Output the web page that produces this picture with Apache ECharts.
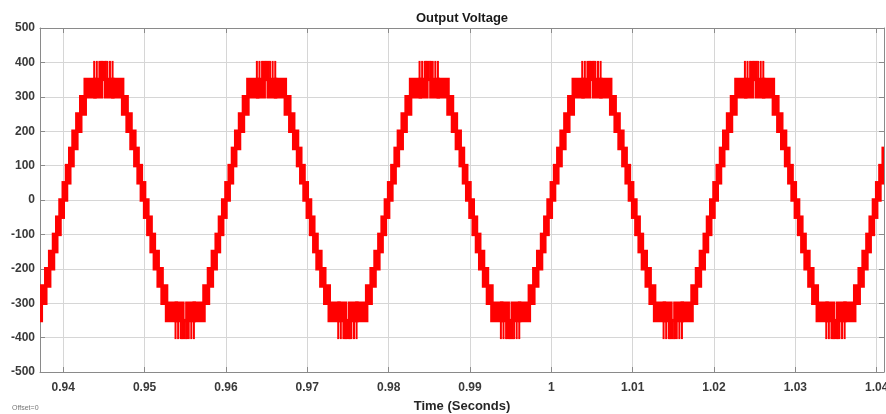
<!DOCTYPE html>
<html>
<head>
<meta charset="utf-8">
<title>Output Voltage</title>
<script src="https://cdn.jsdelivr.net/npm/echarts@6/dist/echarts.min.js"></script>
<style>
  html, body { margin: 0; padding: 0; background: #fff; }
  #chart { width: 886px; height: 414px; }
</style>
</head>
<body>
<div id="chart"></div>
<script>
// x axis tick positions (seconds)
const xTicks = [0.94, 0.95, 0.96, 0.97, 0.98, 0.99, 1, 1.01, 1.02, 1.03, 1.04]

// step boundaries of the inverter output (seconds); block i runs from stepTime[i] to stepTime[i+1]
const stepTime = [
  0.9361, 0.9373, 0.93785, 0.93833, 0.9388, 0.9392, 0.9396,
  0.9400, 0.9404, 0.9408, 0.9412, 0.94167, 0.94215, 0.9427, 0.9439, 0.9447, 0.9452, 0.9461, 0.9473, 0.94785, 0.94833, 0.9488, 0.9492, 0.9496,
  0.9500, 0.9504, 0.9508, 0.9512, 0.95167, 0.95215, 0.9527, 0.9539, 0.9547, 0.9552, 0.9561, 0.9573, 0.95785, 0.95833, 0.9588, 0.9592, 0.9596,
  0.9600, 0.9604, 0.9608, 0.9612, 0.96167, 0.96215, 0.9627, 0.9639, 0.9647, 0.9652, 0.9661, 0.9673, 0.96785, 0.96833, 0.9688, 0.9692, 0.9696,
  0.9700, 0.9704, 0.9708, 0.9712, 0.97167, 0.97215, 0.9727, 0.9739, 0.9747, 0.9752, 0.9761, 0.9773, 0.97785, 0.97833, 0.9788, 0.9792, 0.9796,
  0.9800, 0.9804, 0.9808, 0.9812, 0.98167, 0.98215, 0.9827, 0.9839, 0.9847, 0.9852, 0.9861, 0.9873, 0.98785, 0.98833, 0.9888, 0.9892, 0.9896,
  0.9900, 0.9904, 0.9908, 0.9912, 0.99167, 0.99215, 0.9927, 0.9939, 0.9947, 0.9952, 0.9961, 0.9973, 0.99785, 0.99833, 0.9988, 0.9992, 0.9996,
  1.0000, 1.0004, 1.0008, 1.0012, 1.00167, 1.00215, 1.0027, 1.0039, 1.0047, 1.0052, 1.0061, 1.0073, 1.00785, 1.00833, 1.0088, 1.0092, 1.0096,
  1.0100, 1.0104, 1.0108, 1.0112, 1.01167, 1.01215, 1.0127, 1.0139, 1.0147, 1.0152, 1.0161, 1.0173, 1.01785, 1.01833, 1.0188, 1.0192, 1.0196,
  1.0200, 1.0204, 1.0208, 1.0212, 1.02167, 1.02215, 1.0227, 1.0239, 1.0247, 1.0252, 1.0261, 1.0273, 1.02785, 1.02833, 1.0288, 1.0292, 1.0296,
  1.0300, 1.0304, 1.0308, 1.0312, 1.03167, 1.03215, 1.0327, 1.0339, 1.0347, 1.0352, 1.0361, 1.0373, 1.03785, 1.03833, 1.0388, 1.0392, 1.0396,
  1.0400, 1.0404, 1.0408, 1.0412
]

// lower level of each switching band (V)
const stepLow = [
  -350, -300, -250, -200, -150, -100, -50,
  0, 50, 100, 150, 200, 250, 300, 300, 350, 300, 300, 250, 200, 150, 100, 50, 0,
  -50, -100, -150, -200, -250, -300, -350, -400, -400, -400, -350, -300, -250, -200, -150, -100, -50,
  0, 50, 100, 150, 200, 250, 300, 300, 350, 300, 300, 250, 200, 150, 100, 50, 0,
  -50, -100, -150, -200, -250, -300, -350, -400, -400, -400, -350, -300, -250, -200, -150, -100, -50,
  0, 50, 100, 150, 200, 250, 300, 300, 350, 300, 300, 250, 200, 150, 100, 50, 0,
  -50, -100, -150, -200, -250, -300, -350, -400, -400, -400, -350, -300, -250, -200, -150, -100, -50,
  0, 50, 100, 150, 200, 250, 300, 300, 350, 300, 300, 250, 200, 150, 100, 50, 0,
  -50, -100, -150, -200, -250, -300, -350, -400, -400, -400, -350, -300, -250, -200, -150, -100, -50,
  0, 50, 100, 150, 200, 250, 300, 300, 350, 300, 300, 250, 200, 150, 100, 50, 0,
  -50, -100, -150, -200, -250, -300, -350, -400, -400, -400, -350, -300, -250, -200, -150, -100, -50,
  0, 50, 100
]

// upper level of each switching band (V)
const stepHigh = [
  -300, -250, -200, -150, -100, -50, 0,
  50, 100, 150, 200, 250, 300, 350, 400, 400, 400, 350, 300, 250, 200, 150, 100, 50,
  0, -50, -100, -150, -200, -250, -300, -300, -350, -300, -300, -250, -200, -150, -100, -50, 0,
  50, 100, 150, 200, 250, 300, 350, 400, 400, 400, 350, 300, 250, 200, 150, 100, 50,
  0, -50, -100, -150, -200, -250, -300, -300, -350, -300, -300, -250, -200, -150, -100, -50, 0,
  50, 100, 150, 200, 250, 300, 350, 400, 400, 400, 350, 300, 250, 200, 150, 100, 50,
  0, -50, -100, -150, -200, -250, -300, -300, -350, -300, -300, -250, -200, -150, -100, -50, 0,
  50, 100, 150, 200, 250, 300, 350, 400, 400, 400, 350, 300, 250, 200, 150, 100, 50,
  0, -50, -100, -150, -200, -250, -300, -300, -350, -300, -300, -250, -200, -150, -100, -50, 0,
  50, 100, 150, 200, 250, 300, 350, 400, 400, 400, 350, 300, 250, 200, 150, 100, 50,
  0, -50, -100, -150, -200, -250, -300, -300, -350, -300, -300, -250, -200, -150, -100, -50, 0,
  50, 100, 150
]

const red = '#ff0000'
const axisGray = '#8a8a8a'
const gridGray = '#d6d6d6'
const labelColor = '#3a3a3a'
const fontFamily = '"Liberation Sans", Arial, sans-serif'

// [start, end, low, high] for each band block
const blocks = []
for (let i = 0; i < stepLow.length; i++) {
  blocks.push([stepTime[i], stepTime[i + 1], stepLow[i], stepHigh[i]])
}

// draws one switching band; the part next to +/-400 V is drawn as fine switching stripes
const renderBlock = (params, api) => {
  const t0 = api.value(0)
  const t1 = api.value(1)
  const lo = api.value(2)
  const hi = api.value(3)
  const children = []

  let solidLo = lo
  let solidHi = hi
  let stripeLo = null
  let stripeHi = null
  if (hi >= 400) {
    stripeLo = Math.max(lo, 350)
    stripeHi = hi
    solidHi = stripeLo
  } else if (lo <= -400) {
    stripeLo = lo
    stripeHi = Math.min(hi, -350)
    solidLo = stripeHi
  }

  if (solidHi > solidLo) {
    const a = api.coord([t0, solidHi])
    const b = api.coord([t1, solidLo])
    children.push({
      type: 'rect',
      shape: { x: a[0], y: a[1], width: b[0] - a[0], height: b[1] - a[1] },
      style: { fill: red, stroke: red, lineWidth: 3.5 }
    })
  }

  if (stripeLo !== null) {
    const a = api.coord([t0, stripeHi])
    const b = api.coord([t1, stripeLo])
    for (let x = a[0] - 0.8; x <= b[0] + 0.8; x += 2.6) {
      children.push({
        type: 'line',
        shape: { x1: x, y1: a[1] - 1.5, x2: x, y2: b[1] + 1.5 },
        style: { stroke: red, lineWidth: 2 }
      })
    }
  }

  return { type: 'group', children: children }
}

const chart = echarts.init(document.getElementById('chart'), null, { renderer: 'canvas' })

const option = {
  backgroundColor: '#ffffff',
  animation: false,
  textStyle: { fontFamily: fontFamily },
  grid: { left: 40, right: 2, top: 28, bottom: 42, outerBoundsMode: 'none', containLabel: false },
  graphic: [
    {
      type: 'text', x: 462, y: 18,
      style: {
        text: 'Output Voltage', fill: '#1a1a1a', font: 'bold 13px ' + fontFamily,
        textAlign: 'center', textVerticalAlign: 'middle'
      }
    },
    {
      type: 'text', x: 12, y: 408,
      style: {
        text: 'Offset=0', fill: '#777', font: '7px ' + fontFamily,
        textAlign: 'left', textVerticalAlign: 'middle'
      }
    }
  ],
  xAxis: [
    {
      type: 'value',
      min: 0.93714,
      max: 1.0409,
      position: 'bottom',
      name: 'Time (Seconds)',
      nameLocation: 'middle',
      nameGap: 28,
      nameTextStyle: { color: '#262626', fontSize: 13, fontWeight: 'bold' },
      axisLine: { onZero: false, lineStyle: { color: axisGray } },
      axisTick: { inside: true, length: 5, customValues: xTicks, lineStyle: { color: axisGray } },
      axisLabel: { customValues: xTicks, color: labelColor, fontSize: 12, fontWeight: 'bold', margin: 10 },
      splitLine: { show: true, lineStyle: { color: gridGray } }
    },
    {
      type: 'value',
      min: 0.93714,
      max: 1.0409,
      position: 'top',
      axisLine: { onZero: false, lineStyle: { color: axisGray } },
      axisTick: { inside: true, length: 5, customValues: xTicks, lineStyle: { color: axisGray } },
      axisLabel: { show: false },
      splitLine: { show: false }
    }
  ],
  yAxis: [
    {
      type: 'value',
      min: -500,
      max: 500,
      interval: 100,
      position: 'left',
      axisLine: { show: true, onZero: false, lineStyle: { color: axisGray } },
      axisTick: { show: true, inside: true, length: 5, lineStyle: { color: axisGray } },
      axisLabel: { color: labelColor, fontSize: 12, fontWeight: 'bold', margin: 5 },
      splitLine: { show: true, lineStyle: { color: gridGray } }
    },
    {
      type: 'value',
      min: -500,
      max: 500,
      interval: 100,
      position: 'right',
      axisLine: { show: true, onZero: false, lineStyle: { color: axisGray } },
      axisTick: { show: true, inside: true, length: 5, lineStyle: { color: axisGray } },
      axisLabel: { show: false },
      splitLine: { show: false }
    }
  ],
  series: [
    {
      name: 'Output Voltage',
      type: 'custom',
      xAxisIndex: 0,
      yAxisIndex: 0,
      clip: true,
      encode: { x: [0, 1], y: [2, 3] },
      data: blocks,
      renderItem: renderBlock
    }
  ]
}

chart.setOption(option)
</script>
</body>
</html>
